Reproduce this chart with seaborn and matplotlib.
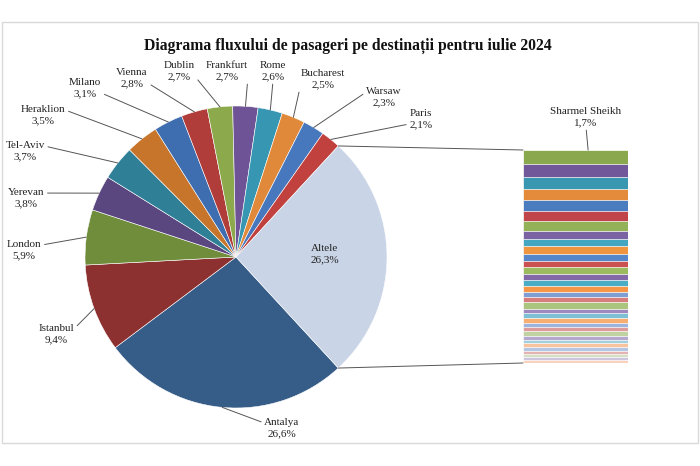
import numpy as np
import matplotlib
matplotlib.use("Agg")
import matplotlib.pyplot as plt
from matplotlib.patches import ConnectionPatch, Rectangle
import seaborn as sns

# main pie: share of passengers per destination, July 2024 (%)
destinations = ["Antalya", "Istanbul", "London", "Yerevan", "Tel-Aviv", "Heraklion",
                "Milano", "Vienna", "Dublin", "Frankfurt", "Rome", "Bucharest",
                "Warsaw", "Paris", "Altele"]
shares = [26.6, 9.4, 5.9, 3.8, 3.7, 3.5, 3.1, 2.8, 2.7, 2.7, 2.6, 2.5, 2.3, 2.1, 26.3]

# breakdown of "Altele" (top to bottom of the bar), only the first one is named
other_names = ["Sharmel Sheikh"] + [""] * 32
other_shares = [1.7, 1.6, 1.5, 1.4, 1.3, 1.3, 1.2, 1.0, 0.9, 1.0, 0.8, 0.8, 0.8,
                0.7, 0.8, 0.7, 0.7, 0.6, 0.8, 0.5, 0.6, 0.7, 0.5, 0.5, 0.6, 0.4,
                0.4, 0.5, 0.5, 0.4, 0.3, 0.4, 0.4]

title = "Diagrama fluxului de pasageri pe destinații pentru iulie 2024"

pie_colors = ["#365C88", "#8C3130", "#6F8D3A", "#5B4780", "#2F7F97", "#C8752C",
              "#3E6DB0", "#B13D3A", "#8CAA4B", "#6E5496", "#3797B3", "#E0893A",
              "#4777BD", "#C0413E", "#C9D4E6"]
bar_colors = ["#8AA84E", "#71589A", "#3A97B2", "#E38B3B", "#4A7CC0", "#C0454A",
              "#93B157", "#7B62A3", "#45A6C1", "#F0953F", "#5586CA", "#CB5050",
              "#9CBB5E", "#8369A8", "#4BACC6", "#F79646", "#7F9FD2", "#D77D7D",
              "#ABC57E", "#9D89BD", "#7DC0D4", "#F8AE70", "#9DB5DC", "#DD9C9B",
              "#BFD2A0", "#B4A8CE", "#A0CFDD", "#F9C49B", "#B5C6E2", "#E4B3B1",
              "#D3E0C3", "#CDC5DD", "#FBD2BD"]

# label layout: text centre in image pixels, and where the leader leaves the text
label_layout = {
    "Antalya": (282, 428, (0.0, 0.75)),
    "Istanbul": (56, 334, (1.0, 0.75)),
    "London": (24, 250, (1.0, 0.75)),
    "Yerevan": (26, 198, (1.0, 0.75)),
    "Tel-Aviv": (25, 151, (1.0, 0.75)),
    "Heraklion": (43, 115, (1.0, 0.75)),
    "Milano": (85, 88, (1.0, 0.25)),
    "Vienna": (132, 78, (1.0, 0.25)),
    "Dublin": (179, 71, (1.0, 0.25)),
    "Frankfurt": (227, 71, (1.0, 0.25)),
    "Rome": (273, 71, (0.5, 0.0)),
    "Bucharest": (323, 79, (0.0, 0.25)),
    "Warsaw": (384, 97, (0.0, 0.75)),
    "Paris": (421, 119, (0.0, 0.25)),
}

W, H = 700, 466
sns.set_style("white")
plt.rcParams["font.family"] = ["Liberation Serif", "DejaVu Serif"]

fig = plt.figure(figsize=(W / 100, H / 100), dpi=100)
fig.patch.set_facecolor("white")
fig.add_artist(Rectangle((2 / W, 1 - 443 / H), 696 / W, 421 / H, transform=fig.transFigure,
                         fill=False, edgecolor="#D9D9D9", linewidth=1))

fig.text(348 / W, 1 - 46 / H, title, ha="center", va="center", fontsize=11.3,
         fontweight="bold", color="#111111")

# pie
cx, cy, r = 236, 257, 151
ax_pie = fig.add_axes([(cx - r) / W, 1 - (cy + r) / H, 2 * r / W, 2 * r / H])
start = -shares[-1] / 2 * 3.6
wedges, _ = ax_pie.pie(shares, colors=pie_colors, startangle=start, counterclock=False,
                       wedgeprops=dict(edgecolor="white", linewidth=0.4))
ax_pie.set_xlim(-1, 1)
ax_pie.set_ylim(-1, 1)
ax_pie.set_aspect("equal")
ax_pie.axis("off")

def fmt(v):
    return f"{v:.1f}%".replace(".", ",")

for w, name, v in zip(wedges, destinations, shares):
    mid = np.deg2rad((w.theta1 + w.theta2) / 2)
    if name == "Altele":
        ax_pie.annotate(f"{name}\n{fmt(v)}", xy=(325, H - 254), xycoords="figure pixels",
                        ha="center", va="center", fontsize=8, color="#222222",
                        linespacing=1.3)
        continue
    tx, ty, rel = label_layout[name]
    ax_pie.annotate(f"{name}\n{fmt(v)}", xy=(np.cos(mid), np.sin(mid)), xycoords="data",
                    xytext=(tx, H - ty), textcoords="figure pixels",
                    ha="center", va="center", fontsize=8, color="#222222", linespacing=1.25,
                    arrowprops=dict(arrowstyle="-", color="#555555", lw=0.7, relpos=rel,
                                    shrinkA=0, shrinkB=0))

# stacked bar for "Altele"
bx, by, bw, bh = 523, 150, 105, 213
ax_bar = fig.add_axes([bx / W, 1 - (by + bh) / H, bw / W, bh / H])
tops = np.cumsum(other_shares[::-1])[::-1]
for top, col in zip(tops, bar_colors):
    sns.barplot(x=[0], y=[top], color=col, saturation=1, width=1, ax=ax_bar,
                edgecolor="white", linewidth=0.5)
ax_bar.set_xlim(-0.5, 0.5)
ax_bar.set_ylim(0, tops[0])
ax_bar.axis("off")

ax_bar.annotate(f"{other_names[0]}\n{fmt(other_shares[0])}", xy=(0.12, tops[0]), xycoords="data",
                xytext=(586, H - 117), textcoords="figure pixels", ha="center", va="center",
                fontsize=8, color="#222222", linespacing=1.25,
                arrowprops=dict(arrowstyle="-", color="#555555", lw=0.7, relpos=(0.5, 0.0),
                                shrinkA=0, shrinkB=0))

# connector lines from the "Altele" wedge to the bar
alt = wedges[-1]
for ang, yb in ((alt.theta2, tops[0]), (alt.theta1, 0)):
    a = np.deg2rad(ang)
    con = ConnectionPatch(xyA=(np.cos(a), np.sin(a)), coordsA=ax_pie.transData,
                          xyB=(-0.5, yb), coordsB=ax_bar.transData,
                          color="#555555", lw=0.7)
    fig.add_artist(con)

fig.savefig("out.png", dpi=100, facecolor="white")
